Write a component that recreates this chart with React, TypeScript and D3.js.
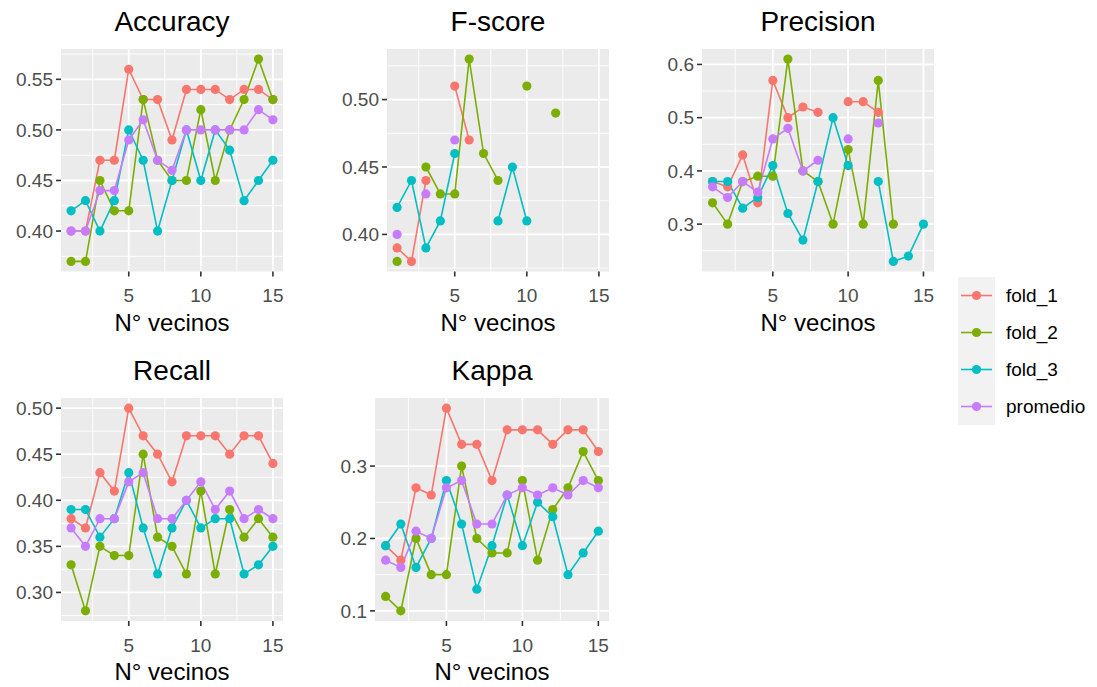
import React from 'react';
import * as d3 from 'd3';

const vecinos = [1, 2, 3, 4, 5, 6, 7, 8, 9, 10, 11, 12, 13, 14, 15];
const seriesNames = ['fold_1', 'fold_2', 'fold_3', 'promedio'];
const seriesColors = ['#F8766D', '#7CAE00', '#00BFC4', '#C77CFF'];
const xTicks = [5, 10, 15];

const N = null;

const accuracyFold1 = [0.40, 0.40, 0.47, 0.47, 0.56, 0.53, 0.53, 0.49, 0.54, 0.54, 0.54, 0.53, 0.54, 0.54, 0.53];
const accuracyFold2 = [0.37, 0.37, 0.45, 0.42, 0.42, 0.53, 0.47, 0.45, 0.45, 0.52, 0.45, 0.50, 0.53, 0.57, 0.53];
const accuracyFold3 = [0.42, 0.43, 0.40, 0.43, 0.50, 0.47, 0.40, 0.45, 0.50, 0.45, 0.50, 0.48, 0.43, 0.45, 0.47];
const accuracyProm = [0.40, 0.40, 0.44, 0.44, 0.49, 0.51, 0.47, 0.46, 0.50, 0.50, 0.50, 0.50, 0.50, 0.52, 0.51];
const accuracyTicks = [0.40, 0.45, 0.50, 0.55];
const accuracyLabels = ['0.40', '0.45', '0.50', '0.55'];

const fscoreFold1 = [0.39, 0.38, 0.44, N, 0.51, 0.47, N, N, N, N, N, N, N, N, N];
const fscoreFold2 = [0.38, N, 0.45, 0.43, 0.43, 0.53, 0.46, 0.44, N, 0.51, N, 0.49, N, N, N];
const fscoreFold3 = [0.42, 0.44, 0.39, 0.41, 0.46, N, N, 0.41, 0.45, 0.41, N, N, N, N, N];
const fscoreProm = [0.40, N, 0.43, N, 0.47, N, N, N, N, N, N, N, N, N, N];
const fscoreTicks = [0.40, 0.45, 0.50];
const fscoreLabels = ['0.40', '0.45', '0.50'];

const precisionFold1 = [0.38, 0.37, 0.43, 0.34, 0.57, 0.50, 0.52, 0.51, N, 0.53, 0.53, 0.51, N, N, N];
const precisionFold2 = [0.34, 0.30, 0.38, 0.39, 0.39, 0.61, 0.40, 0.38, 0.30, 0.44, 0.30, 0.57, 0.30, N, N];
const precisionFold3 = [0.38, 0.38, 0.33, 0.35, 0.41, 0.32, 0.27, 0.38, 0.50, 0.41, N, 0.38, 0.23, 0.24, 0.30];
const precisionProm = [0.37, 0.35, 0.38, 0.36, 0.46, 0.48, 0.40, 0.42, N, 0.46, N, 0.49, N, N, N];
const precisionTicks = [0.3, 0.4, 0.5, 0.6];
const precisionLabels = ['0.3', '0.4', '0.5', '0.6'];

const recallFold1 = [0.38, 0.37, 0.43, 0.41, 0.50, 0.47, 0.45, 0.42, 0.47, 0.47, 0.47, 0.45, 0.47, 0.47, 0.44];
const recallFold2 = [0.33, 0.28, 0.35, 0.34, 0.34, 0.45, 0.36, 0.35, 0.32, 0.41, 0.32, 0.39, 0.36, 0.38, 0.36];
const recallFold3 = [0.39, 0.39, 0.36, 0.38, 0.43, 0.37, 0.32, 0.37, 0.40, 0.37, 0.38, 0.38, 0.32, 0.33, 0.35];
const recallProm = [0.37, 0.35, 0.38, 0.38, 0.42, 0.43, 0.38, 0.38, 0.40, 0.42, 0.39, 0.41, 0.38, 0.39, 0.38];
const recallTicks = [0.30, 0.35, 0.40, 0.45, 0.50];
const recallLabels = ['0.30', '0.35', '0.40', '0.45', '0.50'];

const kappaFold1 = [0.19, 0.17, 0.27, 0.26, 0.38, 0.33, 0.33, 0.28, 0.35, 0.35, 0.35, 0.33, 0.35, 0.35, 0.32];
const kappaFold2 = [0.12, 0.10, 0.20, 0.15, 0.15, 0.30, 0.20, 0.18, 0.18, 0.28, 0.17, 0.24, 0.27, 0.32, 0.28];
const kappaFold3 = [0.19, 0.22, 0.16, 0.20, 0.28, 0.22, 0.13, 0.19, 0.26, 0.19, 0.25, 0.23, 0.15, 0.18, 0.21];
const kappaProm = [0.17, 0.16, 0.21, 0.20, 0.27, 0.28, 0.22, 0.22, 0.26, 0.27, 0.26, 0.27, 0.26, 0.28, 0.27];
const kappaTicks = [0.1, 0.2, 0.3];
const kappaLabels = ['0.1', '0.2', '0.3'];

const FONT = '"Liberation Sans", Arial, sans-serif';

type PanelDef = {
  title: string;
  data: (number | null)[][];
  ticks: number[];
  labels: string[];
  left: number;
  right: number;
  top: number;
  bottom: number;
};

const panels: PanelDef[] = [
  { title: 'Accuracy', data: [accuracyFold1, accuracyFold2, accuracyFold3, accuracyProm], ticks: accuracyTicks, labels: accuracyLabels, left: 61, right: 283, top: 49, bottom: 271.5 },
  { title: 'F-score', data: [fscoreFold1, fscoreFold2, fscoreFold3, fscoreProm], ticks: fscoreTicks, labels: fscoreLabels, left: 387, right: 609, top: 49, bottom: 271.5 },
  { title: 'Precision', data: [precisionFold1, precisionFold2, precisionFold3, precisionProm], ticks: precisionTicks, labels: precisionLabels, left: 702, right: 934, top: 49, bottom: 271.5 },
  { title: 'Recall', data: [recallFold1, recallFold2, recallFold3, recallProm], ticks: recallTicks, labels: recallLabels, left: 61, right: 283, top: 398, bottom: 621 },
  { title: 'Kappa', data: [kappaFold1, kappaFold2, kappaFold3, kappaProm], ticks: kappaTicks, labels: kappaLabels, left: 375, right: 609, top: 398, bottom: 621 },
];

function minorBreaks(ticks: number[], domain: number[]) {
  const step = ticks[1] - ticks[0];
  const out: number[] = [];
  for (let k = -1; k <= ticks.length; k++) {
    const v = ticks[0] + step * k + step / 2;
    if (v > domain[0] && v < domain[1]) out.push(v);
  }
  return out;
}

function Panel({ p }: { p: PanelDef }) {
  const xExt = d3.extent(vecinos) as [number, number];
  const xPad = (xExt[1] - xExt[0]) * 0.05;
  const xDomain = [xExt[0] - xPad, xExt[1] + xPad];
  const x = d3.scaleLinear().domain(xDomain).range([p.left, p.right]);
  const all = p.data.flat().filter((v) => v != null) as number[];
  const yExt = d3.extent(all) as [number, number];
  const yPad = (yExt[1] - yExt[0]) * 0.05;
  const yDomain = [yExt[0] - yPad, yExt[1] + yPad];
  const y = d3.scaleLinear().domain(yDomain).range([p.bottom, p.top]);
  const xMinor = minorBreaks(xTicks, xDomain);
  const yMinor = minorBreaks(p.ticks, yDomain);
  const line = d3
    .line<number | null>()
    .defined((d) => d != null)
    .x((_, i) => x(vecinos[i]))
    .y((d) => y(d as number));
  const cx = (p.left + p.right) / 2;
  return (
    <g>
      <text x={cx} y={p.top - 18} textAnchor="middle" fontSize={28} fontFamily={FONT} fill="#000">
        {p.title}
      </text>
      <rect x={p.left} y={p.top} width={p.right - p.left} height={p.bottom - p.top} fill="#EBEBEB" />
      {xMinor.map((v) => (
        <line key={'xm' + v} x1={x(v)} x2={x(v)} y1={p.top} y2={p.bottom} stroke="#fff" strokeWidth={0.9} />
      ))}
      {yMinor.map((v) => (
        <line key={'ym' + v} x1={p.left} x2={p.right} y1={y(v)} y2={y(v)} stroke="#fff" strokeWidth={0.9} />
      ))}
      {xTicks.map((v) => (
        <line key={'xM' + v} x1={x(v)} x2={x(v)} y1={p.top} y2={p.bottom} stroke="#fff" strokeWidth={1.8} />
      ))}
      {p.ticks.map((v) => (
        <line key={'yM' + v} x1={p.left} x2={p.right} y1={y(v)} y2={y(v)} stroke="#fff" strokeWidth={1.8} />
      ))}
      {p.data.map((s, si) => (
        <path key={'l' + si} d={line(s) || ''} fill="none" stroke={seriesColors[si]} strokeWidth={1.6} />
      ))}
      {p.data.map((s, si) =>
        s.map((v, i) =>
          v == null ? null : (
            <circle key={'c' + si + '-' + i} cx={x(vecinos[i])} cy={y(v)} r={4.6} fill={seriesColors[si]} />
          )
        )
      )}
      {xTicks.map((v) => (
        <g key={'xt' + v}>
          <line x1={x(v)} x2={x(v)} y1={p.bottom} y2={p.bottom + 5} stroke="#333" strokeWidth={1.6} />
          <text x={x(v)} y={p.bottom + 30.5} textAnchor="middle" fontSize={19} fontFamily={FONT} fill="#4D4D4D">
            {v}
          </text>
        </g>
      ))}
      {p.ticks.map((v, i) => (
        <g key={'yt' + v}>
          <line x1={p.left - 5} x2={p.left} y1={y(v)} y2={y(v)} stroke="#333" strokeWidth={1.6} />
          <text x={p.left - 8} y={y(v)} dy="0.35em" textAnchor="end" fontSize={19} fontFamily={FONT} fill="#4D4D4D">
            {p.labels[i]}
          </text>
        </g>
      ))}
      <text x={cx} y={p.bottom + 59} textAnchor="middle" fontSize={24} fontFamily={FONT} fill="#000">
        N° vecinos
      </text>
    </g>
  );
}

function Legend() {
  const top = 277;
  const keyH = 37;
  return (
    <g>
      <rect x={958} y={top} width={37} height={keyH * seriesNames.length} fill="#F2F2F2" />
      {seriesNames.map((name, i) => {
        const cy = top + keyH * i + keyH / 2;
        return (
          <g key={name}>
            <line x1={961} x2={992} y1={cy} y2={cy} stroke={seriesColors[i]} strokeWidth={1.6} />
            <circle cx={976.5} cy={cy} r={4.6} fill={seriesColors[i]} />
            <text x={1006} y={cy} dy="0.35em" fontSize={19} fontFamily={FONT} fill="#000">
              {name}
            </text>
          </g>
        );
      })}
    </g>
  );
}

export default function App() {
  return (
    <svg
      width={1097}
      height={687}
      style={{ position: 'absolute', left: 0, top: 0, background: '#fff' }}
    >
      <rect x={0} y={0} width={1097} height={687} fill="#fff" />
      {panels.map((p) => (
        <Panel key={p.title} p={p} />
      ))}
      <Legend />
    </svg>
  );
}
